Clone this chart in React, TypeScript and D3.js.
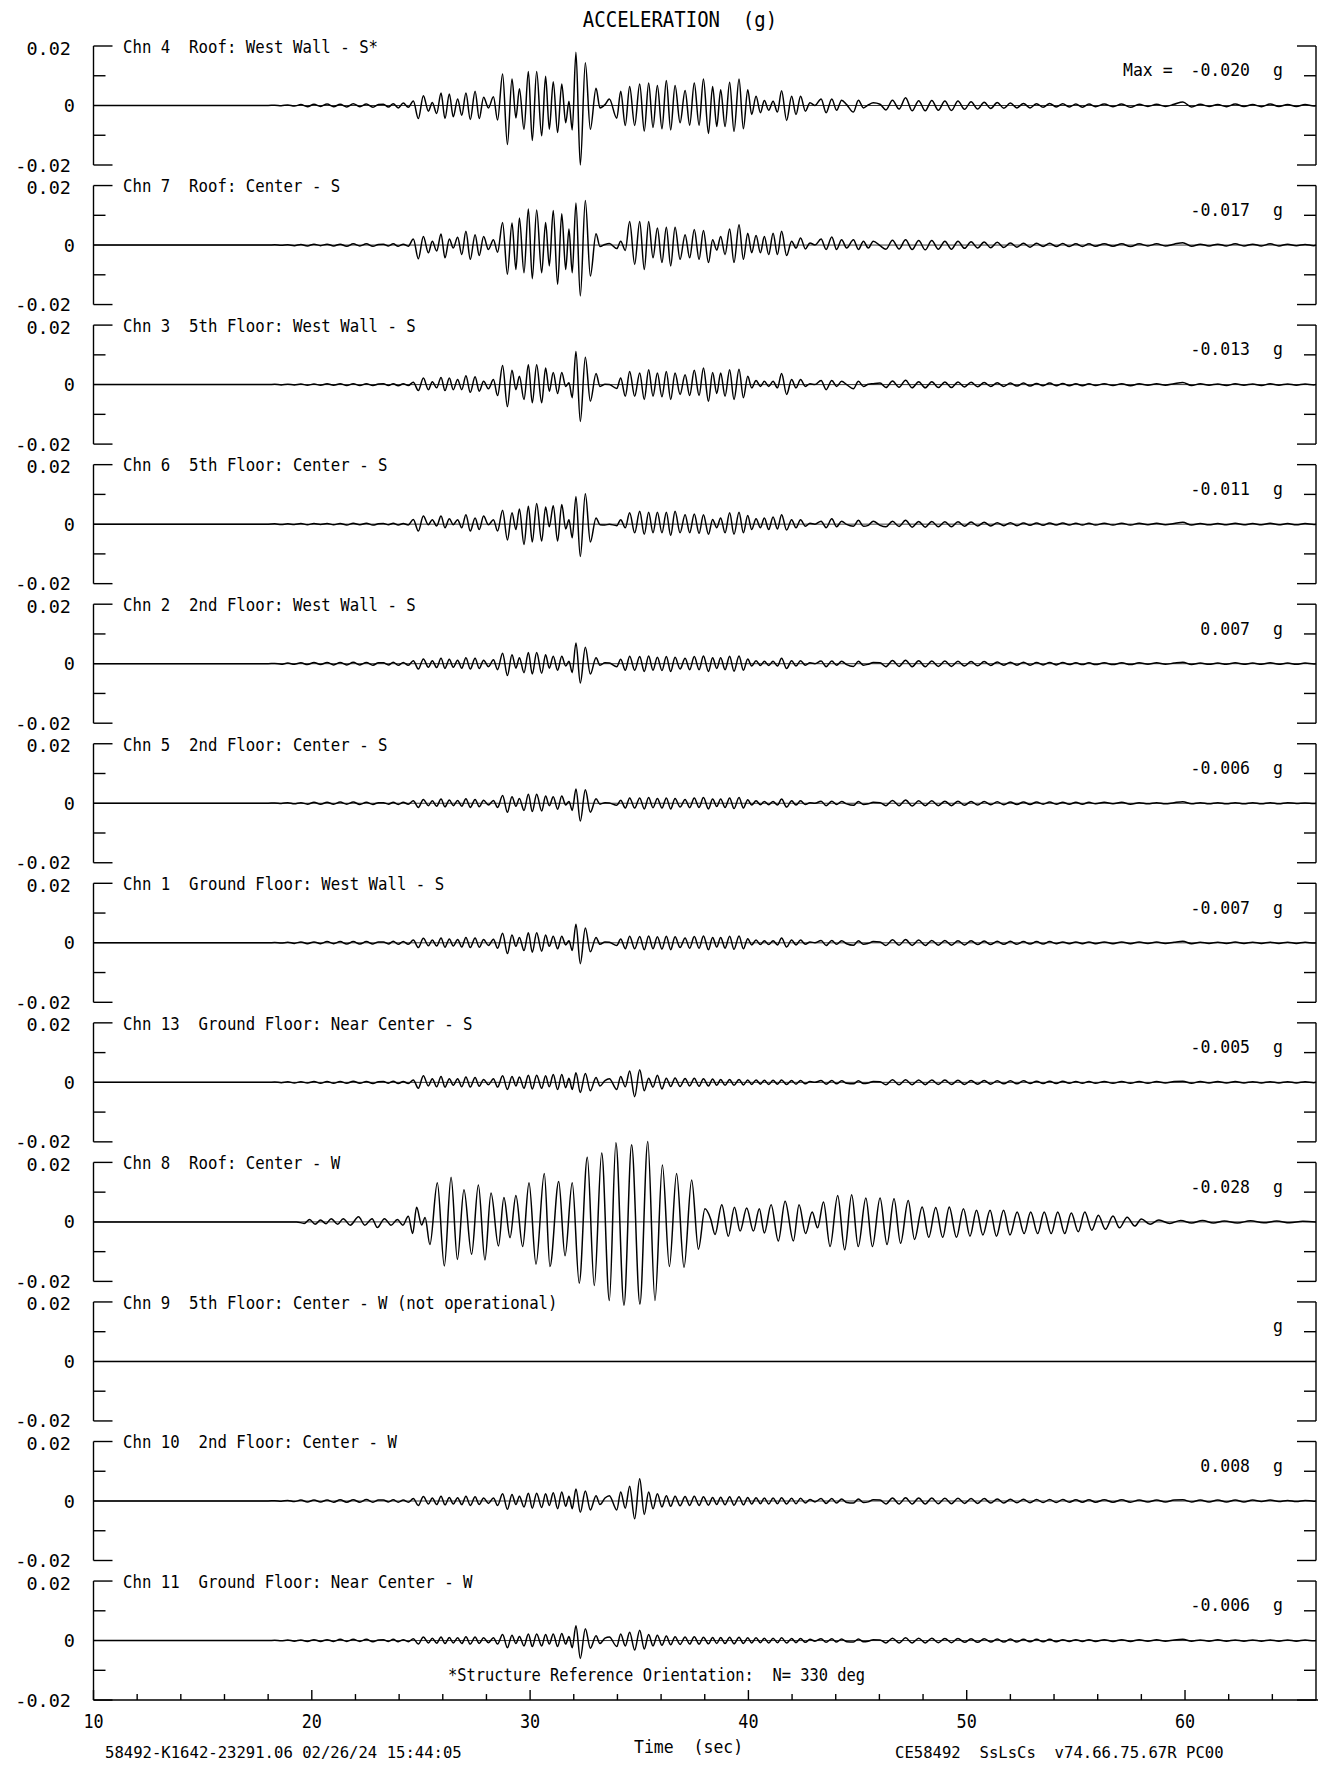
import React from 'react';
import * as d3 from 'd3';

// ---------- axes / labels ----------
const TIME_DOMAIN = [10, 66];
const X_TICK_LABELS = [10, 20, 30, 40, 50, 60];
const X_MINOR_TICKS = [12, 14, 16, 18, 22, 24, 26, 28, 32, 34, 36, 38, 42, 44, 46, 48, 52, 54, 56, 58, 62, 64];
const Y_TICK_LABELS = ['0.02', '0', '-0.02'];
const Y_TICK_VALUES = [0.02, 0, -0.02];

const CHANNEL_LABELS = [
  'Chn 4  Roof: West Wall - S*',
  'Chn 7  Roof: Center - S',
  'Chn 3  5th Floor: West Wall - S',
  'Chn 6  5th Floor: Center - S',
  'Chn 2  2nd Floor: West Wall - S',
  'Chn 5  2nd Floor: Center - S',
  'Chn 1  Ground Floor: West Wall - S',
  'Chn 13  Ground Floor: Near Center - S',
  'Chn 8  Roof: Center - W',
  'Chn 9  5th Floor: Center - W (not operational)',
  'Chn 10  2nd Floor: Center - W',
  'Chn 11  Ground Floor: Near Center - W',
];
const MAX_LABELS = ['-0.020', '-0.017', '-0.013', '-0.011', '0.007', '-0.006', '-0.007', '-0.005', '-0.028', '', '0.008', '-0.006'];

// ---------- shared time grids (s) for the S-type records ----------
const EARLY_TIMES = [10, 18.0, 18.3, 18.6, 18.9, 19.2, 19.5, 19.8, 20.1, 20.4, 20.7, 21.0, 21.3, 21.6, 21.9, 22.2, 22.5, 22.8, 23.05];
const MAIN_TIMES = [
  23.28, 23.51, 23.73, 23.96, 24.19, 24.42, 24.65, 24.88, 25.11, 25.34,
  25.52, 25.72, 25.92, 26.10, 26.30, 26.48, 26.68, 26.87, 27.06, 27.26,
  27.48, 27.67, 27.87, 28.09, 28.32, 28.51, 28.74, 28.96, 29.17, 29.35,
  29.51, 29.72, 29.92, 30.10, 30.30, 30.53, 30.71, 30.88, 31.06, 31.26,
  31.45, 31.63, 31.78, 31.93, 32.10, 32.30, 32.53, 32.76, 33.02, 33.20,
  33.43, 33.63, 33.97, 34.15, 34.36, 34.56, 34.79, 35.02, 35.23, 35.43,
  35.63, 35.83, 36.04, 36.24, 36.44, 36.64, 36.87, 37.10, 37.31, 37.52,
  37.74, 37.94, 38.17, 38.36, 38.55, 38.73, 38.93, 39.14, 39.34, 39.57,
  39.77, 39.97, 40.15, 40.35, 40.55, 40.73, 40.93, 41.13, 41.33, 41.52,
  41.75, 41.98, 42.18, 42.39, 42.61, 42.82, 43.05, 43.33, 43.56, 43.82,
  44.04, 44.27, 44.50, 44.81, 45.04, 45.27, 45.49, 45.72, 46.03,
];
const TAIL_TIMES = [
  46.3, 46.6, 46.9, 47.2, 47.5, 47.8, 48.1, 48.4, 48.7, 49.0,
  49.3, 49.6, 49.9, 50.2, 50.5, 50.8, 51.1, 51.4, 51.7, 52.0,
  52.3, 52.6, 52.9, 53.2, 53.5, 53.8, 54.1, 54.4, 54.7, 55.0,
  55.3, 55.6, 55.9,
  56.3, 56.7, 57.1, 57.5, 57.9, 58.3, 58.7, 59.1, 59.5, 59.9,
  60.3, 60.7, 61.1, 61.5, 61.9, 62.3, 62.7, 63.1, 63.5, 63.9,
  64.3, 64.7, 65.1, 65.5, 65.9, 66.0,
];

// ---------- peak values (milli-g) read from the record ----------
const CHN4_EARLY = [0, 0, 0.1, -0.1, 0.2, -0.2, 0.3, -0.4, 0.4, -0.3, 0.5, -0.4, 0.4, -0.5, 0.6, -0.4, 0.5, -0.6, 0.3];
const CHN4_MAIN = [
  0.4, -0.5, 0.6, -0.8, 0.8, -0.6, 1.5, -4.4, 3.3, -1.9,
  1.0, -2.7, 4.2, -4.4, 3.9, -3.8, 2.2, -3.3, 4.2, -4.7,
  4.8, -4.4, 2.8, -0.8, 2.9, -4.9, 10.6, -13.1, 8.9, -4.2,
  5.6, -8.0, 11.4, -11.8, 11.4, -10.2, 9.8, -8.0, 8.0, -9.1,
  7.2, -5.8, 1.4, -8.2, 17.9, -20.0, 14.4, -8.0, 5.8, -0.8,
  0.3, 2.2, -4.3, 4.8, -6.7, 6.4, -6.7, 7.2, -8.6, 7.6,
  -7.4, 6.7, -7.8, 8.4, -8.2, 6.7, -5.8, 5.0, -6.6, 7.6,
  -6.6, 8.9, -9.4, 6.4, -7.1, 5.3, -7.1, 7.8, -8.7, 8.9,
  -7.8, 5.3, -3.0, 3.1, -2.4, 1.7, -1.6, 1.4, -2.2, 5.0,
  -5.0, 3.1, -3.0, 3.1, -1.9, 0.9, 0.0, 2.2, -2.4, 2.2,
  -1.6, 1.8, 0.3, -2.2, 1.8, -0.8, 0.2, 0.9, 0.4,
];
const CHN4_TAIL = [
  -1.5, 1.8, -1.2, 2.6, -1.8, 1.6, -1.8, 1.7, -1.6, 1.5,
  -1.7, 1.5, -1.3, 1.3, -1.2, 1.1, -1.0, 1.0, -0.9, 0.8,
  -0.8, 0.7, -0.8, 0.6, -0.6, 0.7, -0.5, 0.6, -0.5, 0.5,
  -0.6, 0.5, -0.4,
  0.5, -0.4, 0.5, -0.6, 0.4, -0.3, 0.4, -0.3, 0.4, 1.2,
  -0.5, 0.4, -0.3, 0.3, -0.4, 0.5, -0.3, 0.3, -0.4, 0.5,
  -0.3, 0.3, -0.3, 0.3, -0.2, 0,
];

const CHN7_EARLY = [0, 0, 0.1, -0.1, 0.1, -0.2, 0.2, -0.3, 0.3, -0.2, 0.3, -0.3, 0.3, -0.4, 0.4, -0.3, 0.4, -0.4, 0.2];
const CHN7_MAIN = [
  0.3, -0.3, 0.4, -0.4, 0.3, -0.4, 2.0, -4.6, 2.9, -2.6,
  1.3, -2.0, 3.7, -4.3, 2.0, -1.0, 2.6, -3.2, 4.6, -4.8,
  3.5, -3.5, 2.9, -1.5, 1.8, -2.4, 7.6, -9.8, 7.4, -8.2,
  9.1, -9.3, 12.1, -11.3, 11.8, -9.3, 7.6, -7.0, 11.6, -13.2,
  10.5, -8.2, 5.4, -9.3, 14.1, -17.1, 15.0, -10.4, 3.8, -0.5,
  0.2, 0.5, -1.2, 1.3, -1.8, 7.9, -6.5, 7.9, -8.2, 7.9,
  -4.3, 5.7, -5.9, 6.0, -7.0, 6.0, -4.8, 3.5, -4.3, 5.2,
  -4.8, 4.9, -5.9, 1.8, -1.7, 2.9, -3.2, 5.4, -5.9, 6.8,
  -4.8, 4.0, -2.6, 3.2, -2.6, 2.9, -3.2, 4.0, -3.2, 4.6,
  -3.5, 1.3, -1.0, 2.4, -1.3, 0.7, 0.0, 2.0, -1.5, 2.7,
  -1.5, 1.8, -1.0, 1.8, -1.5, 1.3, -1.0, 1.3, -0.2,
];
const CHN7_TAIL = [
  -1.4, 1.6, -1.3, 1.8, -1.5, 1.5, -1.6, 1.5, -1.4, 1.3,
  -1.4, 1.3, -1.1, 1.1, -1.0, 1.0, -0.9, 0.9, -0.8, 0.7,
  -0.7, 0.6, -0.7, 0.6, -0.5, 0.6, -0.5, 0.5, -0.5, 0.4,
  -0.5, 0.4, -0.4,
  0.4, -0.4, 0.4, -0.5, 0.4, -0.3, 0.4, -0.3, 0.3, 0.8,
  -0.4, 0.3, -0.3, 0.3, -0.3, 0.4, -0.3, 0.3, -0.3, 0.4,
  -0.3, 0.3, -0.2, 0.2, -0.2, 0,
];

const CHN3_EARLY = [0, 0, 0.1, -0.1, 0.1, -0.1, 0.2, -0.2, 0.2, -0.2, 0.3, -0.2, 0.3, -0.3, 0.3, -0.3, 0.3, -0.3, 0.2];
const CHN3_MAIN = [
  0.3, -0.3, 0.3, -0.4, 0.3, -0.3, 0.8, -2.0, 2.2, -1.7,
  1.0, -1.1, 2.4, -2.0, 2.2, -1.7, 1.7, -1.7, 3.0, -2.6,
  2.6, -2.2, 1.1, -1.4, 1.7, -3.7, 6.4, -7.4, 4.8, -1.7,
  2.8, -5.0, 6.7, -6.1, 6.7, -6.1, 5.6, -2.2, 4.1, -3.0,
  4.1, -0.6, 0.6, -4.4, 11.1, -12.4, 9.2, -5.6, 3.7, -0.6,
  0.1, 0.0, -1.3, 2.2, -3.9, 4.4, -3.9, 3.9, -5.0, 5.0,
  -3.9, 3.9, -4.1, 4.4, -5.0, 3.9, -3.3, 3.3, -3.7, 4.8,
  -3.7, 5.6, -5.6, 4.1, -3.0, 3.9, -3.9, 5.0, -5.0, 5.2,
  -4.4, 2.8, -1.1, 1.4, -0.6, 1.1, -0.6, 1.1, -1.1, 3.7,
  -3.3, 1.7, -1.1, 1.7, -0.6, 0.3, 0.0, 1.4, -1.7, 1.4,
  -0.6, 1.1, 0.0, -1.4, 1.1, -0.6, 0.1, 0.3, 0.5,
];
const CHN3_TAIL = [
  -1.0, 1.2, -0.9, 1.5, -1.1, 1.0, -1.1, 1.0, -1.0, 0.9,
  -1.0, 0.9, -0.8, 0.8, -0.7, 0.7, -0.6, 0.6, -0.6, 0.5,
  -0.5, 0.5, -0.5, 0.4, -0.4, 0.5, -0.4, 0.4, -0.4, 0.3,
  -0.4, 0.3, -0.3,
  0.3, -0.3, 0.3, -0.4, 0.3, -0.2, 0.3, -0.2, 0.3, 0.7,
  -0.3, 0.3, -0.2, 0.2, -0.3, 0.3, -0.2, 0.2, -0.3, 0.3,
  -0.2, 0.2, -0.2, 0.2, -0.1, 0,
];

const CHN6_EARLY = [0, 0, 0.1, -0.1, 0.1, -0.1, 0.2, -0.2, 0.2, -0.1, 0.2, -0.2, 0.2, -0.3, 0.3, -0.2, 0.3, -0.3, 0.1];
const CHN6_MAIN = [
  0.2, -0.2, 0.3, -0.3, 0.2, -0.3, 1.6, -2.3, 2.7, -0.2,
  1.5, -0.6, 2.7, -1.2, 1.8, -0.2, 1.5, -1.2, 3.2, -2.3,
  2.1, -1.8, 2.7, -0.2, 1.5, -2.3, 4.7, -5.3, 3.8, -1.8,
  5.1, -6.8, 6.0, -6.0, 6.9, -5.7, 5.8, -0.9, 6.2, -5.7,
  6.6, -1.6, 1.5, -4.6, 9.3, -10.9, 10.2, -6.0, 2.1, -0.2,
  -0.3, 0.0, -0.5, 1.5, -1.2, 3.8, -2.9, 4.3, -3.4, 4.0,
  -2.9, 4.0, -2.9, 4.0, -3.8, 4.3, -2.9, 3.2, -2.9, 3.4,
  -3.1, 3.2, -3.4, 1.6, -1.2, 2.1, -2.9, 3.8, -3.4, 4.0,
  -2.9, 2.9, -1.8, 1.8, -1.2, 2.1, -1.8, 2.4, -1.6, 3.2,
  -2.0, 1.5, -1.2, 1.5, -0.7, 0.3, 0.0, 1.0, -1.2, 1.8,
  -0.9, 1.0, -0.1, -0.7, 1.3, -0.7, -0.4, 1.0, -0.4,
];
const CHN6_TAIL = [
  -0.9, 1.0, -0.8, 1.3, -1.0, 0.9, -1.0, 0.9, -0.9, 0.8,
  -0.9, 0.8, -0.7, 0.7, -0.6, 0.6, -0.6, 0.5, -0.5, 0.5,
  -0.5, 0.4, -0.4, 0.4, -0.4, 0.4, -0.3, 0.4, -0.3, 0.3,
  -0.3, 0.3, -0.3,
  0.3, -0.3, 0.3, -0.3, 0.3, -0.2, 0.3, -0.2, 0.2, 0.6,
  -0.3, 0.2, -0.2, 0.2, -0.2, 0.3, -0.2, 0.2, -0.2, 0.3,
  -0.2, 0.2, -0.2, 0.2, -0.1, 0,
];

const CHN2_EARLY = [0, 0, 0.1, -0.2, 0.2, -0.2, 0.3, -0.3, 0.4, -0.3, 0.4, -0.4, 0.4, -0.4, 0.5, -0.4, 0.4, -0.5, 0.3];
const CHN2_MAIN = [
  0.3, -0.4, 0.5, -0.5, 0.4, -0.5, 1.0, -1.8, 1.6, -1.2,
  1.0, -1.3, 1.8, -1.6, 1.5, -1.2, 1.2, -1.5, 2.0, -1.8,
  1.8, -1.6, 1.2, -1.0, 1.3, -2.0, 3.5, -4.0, 3.0, -1.5,
  2.0, -3.0, 3.8, -3.5, 3.8, -3.2, 3.0, -1.5, 2.5, -2.2,
  2.5, -0.8, 0.8, -3.0, 7.0, -6.5, 5.5, -3.5, 2.0, -0.5,
  0.3, 0.2, -1.0, 1.5, -2.2, 2.5, -2.2, 2.4, -2.6, 2.6,
  -2.2, 2.2, -2.3, 2.4, -2.6, 2.2, -1.8, 1.8, -2.0, 2.4,
  -2.0, 2.6, -2.6, 2.0, -1.6, 2.0, -2.0, 2.5, -2.5, 2.6,
  -2.2, 1.6, -0.8, 1.0, -0.6, 0.8, -0.6, 0.8, -0.8, 1.8,
  -1.6, 1.0, -0.8, 1.0, -0.5, 0.3, 0.0, 0.9, -1.0, 0.9,
  -0.5, 0.8, -0.3, -0.9, 0.8, -0.5, -0.2, 0.4, 0.3,
];
const CHN2_TAIL = [
  -1.0, 1.1, -0.9, 1.2, -1.0, 1.0, -1.0, 0.9, -0.9, 0.9,
  -0.9, 0.8, -0.8, 0.7, -0.7, 0.7, -0.6, 0.6, -0.5, 0.5,
  -0.5, 0.5, -0.5, 0.4, -0.4, 0.4, -0.4, 0.4, -0.3, 0.3,
  -0.3, 0.3, -0.3,
  0.3, -0.3, 0.3, -0.3, 0.3, -0.2, 0.3, -0.2, 0.2, 0.5,
  -0.3, 0.2, -0.2, 0.2, -0.2, 0.3, -0.2, 0.2, -0.2, 0.3,
  -0.2, 0.2, -0.2, 0.2, -0.1, 0,
];

const CHN5_EARLY = [0, 0, 0.1, -0.1, 0.2, -0.2, 0.2, -0.3, 0.3, -0.3, 0.3, -0.3, 0.4, -0.3, 0.4, -0.4, 0.3, -0.4, 0.2];
const CHN5_MAIN = [
  0.2, -0.3, 0.3, -0.4, 0.3, -0.3, 0.8, -1.4, 1.3, -0.8,
  0.8, -1.0, 1.4, -1.2, 1.1, -0.8, 0.9, -1.0, 1.5, -1.4,
  1.3, -1.2, 1.0, -0.6, 0.9, -1.4, 2.6, -3.0, 2.2, -1.0,
  1.6, -2.4, 3.0, -2.8, 3.0, -2.6, 2.4, -0.8, 2.2, -2.0,
  2.4, -0.6, 0.6, -2.4, 4.8, -6.0, 4.5, -3.0, 1.5, -0.3,
  0.2, 0.1, -0.7, 1.0, -1.6, 1.8, -1.6, 1.8, -1.9, 1.9,
  -1.5, 1.6, -1.6, 1.8, -1.9, 1.6, -1.3, 1.3, -1.5, 1.8,
  -1.4, 1.9, -1.9, 1.4, -1.1, 1.4, -1.4, 1.8, -1.8, 1.9,
  -1.6, 1.2, -0.6, 0.8, -0.5, 0.6, -0.5, 0.6, -0.6, 1.4,
  -1.3, 0.8, -0.6, 0.8, -0.4, 0.2, 0.0, 0.7, -0.8, 0.7,
  -0.4, 0.6, -0.2, -0.7, 0.6, -0.4, -0.2, 0.3, 0.2,
];
const CHN5_TAIL = [
  -0.8, 0.9, -0.8, 1.1, -0.9, 0.8, -0.8, 0.8, -0.8, 0.7,
  -0.8, 0.7, -0.7, 0.6, -0.6, 0.6, -0.5, 0.5, -0.5, 0.4,
  -0.4, 0.4, -0.4, 0.4, -0.3, 0.4, -0.3, 0.3, -0.3, 0.3,
  -0.3, 0.3, -0.2,
  0.3, -0.2, 0.3, -0.3, 0.2, -0.2, 0.2, -0.2, 0.2, 0.5,
  -0.2, 0.2, -0.2, 0.2, -0.2, 0.2, -0.2, 0.2, -0.2, 0.2,
  -0.2, 0.2, -0.1, 0.1, -0.1, 0,
];

const CHN1_EARLY = [0, 0, 0.1, -0.1, 0.2, -0.2, 0.3, -0.3, 0.3, -0.3, 0.4, -0.3, 0.4, -0.4, 0.4, -0.4, 0.4, -0.4, 0.3];
const CHN1_MAIN = [
  0.3, -0.4, 0.5, -0.5, 0.4, -0.5, 0.9, -1.6, 1.5, -1.0,
  0.9, -1.1, 1.6, -1.5, 1.3, -1.1, 1.1, -1.4, 1.8, -1.6,
  1.6, -1.5, 1.1, -0.9, 1.2, -1.8, 3.2, -3.6, 2.6, -1.2,
  1.8, -2.6, 3.4, -3.2, 3.4, -2.8, 2.6, -1.2, 2.2, -2.0,
  2.2, -0.7, 0.7, -2.6, 6.2, -7.0, 5.0, -3.0, 1.8, -0.5,
  0.3, 0.2, -0.9, 1.3, -2.0, 2.2, -2.0, 2.1, -2.3, 2.3,
  -2.0, 2.0, -2.1, 2.2, -2.3, 2.0, -1.6, 1.6, -1.8, 2.1,
  -1.8, 2.3, -2.3, 1.8, -1.4, 1.8, -1.8, 2.2, -2.2, 2.3,
  -2.0, 1.4, -0.7, 0.9, -0.6, 0.7, -0.6, 0.7, -0.7, 1.6,
  -1.4, 0.9, -0.7, 0.9, -0.5, 0.3, 0.0, 0.8, -0.9, 0.8,
  -0.5, 0.7, -0.3, -0.8, 0.7, -0.5, -0.2, 0.4, 0.3,
];
const CHN1_TAIL = [
  -0.9, 1.0, -0.8, 1.1, -0.9, 0.9, -0.9, 0.8, -0.8, 0.8,
  -0.8, 0.7, -0.7, 0.7, -0.6, 0.6, -0.6, 0.5, -0.5, 0.5,
  -0.5, 0.4, -0.4, 0.4, -0.4, 0.4, -0.3, 0.3, -0.3, 0.3,
  -0.3, 0.3, -0.3,
  0.3, -0.3, 0.3, -0.3, 0.3, -0.2, 0.3, -0.2, 0.2, 0.5,
  -0.3, 0.2, -0.2, 0.2, -0.2, 0.3, -0.2, 0.2, -0.2, 0.2,
  -0.2, 0.2, -0.2, 0.2, -0.1, 0,
];

const CHN13_EARLY = [0, 0, 0.1, -0.1, 0.2, -0.2, 0.2, -0.2, 0.3, -0.3, 0.3, -0.3, 0.3, -0.3, 0.4, -0.3, 0.3, -0.4, 0.2];
const CHN13_MAIN = [
  0.3, -0.3, 0.4, -0.4, 0.3, -0.4, 0.8, -2.0, 2.2, -1.2,
  1.2, -1.5, 2.0, -1.6, 1.2, -1.0, 1.2, -1.5, 1.8, -1.6,
  1.6, -1.3, 1.0, -0.8, 1.2, -1.6, 2.2, -2.4, 2.0, -1.2,
  1.8, -2.0, 2.4, -2.2, 2.4, -2.0, 2.2, -1.5, 2.6, -2.4,
  2.6, -1.8, 1.4, -2.4, 3.2, -3.4, 3.0, -2.8, 1.6, -1.2,
  0.6, 1.2, -2.4, 2.0, -1.5, 3.8, -4.8, 4.2, -2.8, 1.4,
  -1.6, 2.4, -2.2, 1.4, -1.4, 1.5, -1.4, 1.3, -1.2, 1.4,
  -1.3, 1.2, -1.2, 1.1, -1.0, 1.0, -1.0, 1.0, -1.0, 1.0,
  -0.9, 0.8, -0.7, 0.8, -0.6, 0.7, -0.7, 0.7, -0.6, 0.8,
  -0.7, 0.6, -0.6, 0.6, -0.5, 0.3, 0.0, 0.6, -0.6, 0.6,
  -0.5, 0.5, -0.3, -0.5, 0.5, -0.4, -0.2, 0.3, 0.2,
];
const CHN13_TAIL = [
  -0.8, 0.9, -0.8, 0.9, -0.8, 0.8, -0.8, 0.8, -0.7, 0.8,
  -0.7, 0.7, -0.7, 0.6, -0.6, 0.6, -0.6, 0.5, -0.5, 0.5,
  -0.5, 0.5, -0.4, 0.4, -0.4, 0.4, -0.4, 0.4, -0.3, 0.3,
  -0.3, 0.3, -0.3,
  0.3, -0.3, 0.3, -0.3, 0.3, -0.3, 0.3, -0.2, 0.3, 0.4,
  -0.3, 0.3, -0.2, 0.3, -0.2, 0.3, -0.2, 0.2, -0.2, 0.2,
  -0.2, 0.2, -0.2, 0.2, -0.1, 0,
];

const CHN10_EARLY = [0, 0, 0.1, -0.1, 0.2, -0.2, 0.3, -0.3, 0.3, -0.3, 0.3, -0.4, 0.4, -0.4, 0.4, -0.4, 0.5, -0.4, 0.3];
const CHN10_MAIN = [
  0.3, -0.3, 0.4, -0.4, 0.3, -0.4, 0.8, -1.5, 1.5, -1.0,
  1.0, -1.2, 1.6, -1.3, 1.2, -1.0, 1.1, -1.2, 1.6, -1.5,
  1.4, -1.2, 1.0, -0.8, 1.0, -1.5, 2.4, -2.8, 2.2, -1.2,
  1.6, -2.0, 2.6, -2.4, 2.6, -2.2, 2.4, -1.5, 2.8, -2.6,
  3.0, -1.8, 1.6, -2.6, 4.0, -3.8, 3.4, -3.0, 1.8, -1.2,
  1.0, 1.8, -3.0, 3.0, -2.4, 5.0, -6.0, 7.5, -4.5, 3.0,
  -2.6, 2.4, -2.0, 1.8, -1.8, 1.6, -1.6, 1.5, -1.5, 1.6,
  -1.5, 1.4, -1.4, 1.2, -1.2, 1.3, -1.3, 1.4, -1.4, 1.4,
  -1.3, 1.2, -1.0, 1.1, -0.9, 1.0, -1.0, 1.0, -0.9, 1.1,
  -1.0, 0.9, -0.9, 0.9, -0.7, 0.5, -0.3, 0.8, -0.8, 0.8,
  -0.7, 0.7, -0.5, -0.7, 0.7, -0.5, -0.3, 0.4, 0.3,
];
const CHN10_TAIL = [
  -1.0, 1.0, -1.0, 1.1, -1.0, 1.0, -1.0, 1.0, -0.9, 0.9,
  -0.9, 0.9, -0.8, 0.8, -0.8, 0.8, -0.7, 0.7, -0.7, 0.6,
  -0.6, 0.6, -0.6, 0.5, -0.5, 0.5, -0.5, 0.5, -0.4, 0.4,
  -0.4, 0.4, -0.4,
  0.4, -0.4, 0.4, -0.4, 0.3, -0.3, 0.3, -0.3, 0.3, 0.4,
  -0.3, 0.3, -0.3, 0.3, -0.3, 0.3, -0.3, 0.3, -0.2, 0.3,
  -0.2, 0.2, -0.2, 0.2, -0.1, 0,
];

const CHN11_EARLY = [0, 0, 0.1, -0.1, 0.2, -0.2, 0.2, -0.3, 0.3, -0.3, 0.3, -0.3, 0.4, -0.3, 0.4, -0.3, 0.4, -0.4, 0.2];
const CHN11_MAIN = [
  0.3, -0.3, 0.4, -0.4, 0.3, -0.4, 0.6, -1.2, 1.2, -0.8,
  0.8, -0.9, 1.2, -1.0, 1.0, -0.8, 0.9, -1.0, 1.3, -1.2,
  1.2, -1.0, 0.9, -0.7, 0.9, -1.2, 2.0, -2.4, 1.8, -1.0,
  1.4, -1.8, 2.2, -2.0, 2.2, -1.8, 2.0, -1.2, 2.2, -2.0,
  2.4, -1.2, 1.4, -2.4, 5.0, -6.0, 4.0, -2.6, 1.6, -1.0,
  0.8, 1.2, -2.0, 2.2, -1.8, 2.8, -3.2, 3.5, -2.8, 2.0,
  -1.8, 1.8, -1.6, 1.5, -1.4, 1.3, -1.3, 1.2, -1.2, 1.3,
  -1.2, 1.1, -1.1, 1.0, -1.0, 1.0, -1.0, 1.1, -1.1, 1.1,
  -1.0, 0.9, -0.8, 0.9, -0.7, 0.8, -0.8, 0.8, -0.7, 0.9,
  -0.8, 0.7, -0.7, 0.7, -0.6, 0.4, -0.2, 0.6, -0.6, 0.6,
  -0.5, 0.5, -0.4, -0.5, 0.5, -0.4, -0.2, 0.3, 0.2,
];
const CHN11_TAIL = [
  -0.8, 0.8, -0.8, 0.9, -0.8, 0.8, -0.8, 0.8, -0.7, 0.7,
  -0.7, 0.7, -0.6, 0.6, -0.6, 0.6, -0.5, 0.5, -0.5, 0.5,
  -0.5, 0.4, -0.4, 0.4, -0.4, 0.4, -0.4, 0.3, -0.3, 0.3,
  -0.3, 0.3, -0.3,
  0.3, -0.3, 0.3, -0.3, 0.3, -0.2, 0.3, -0.2, 0.2, 0.4,
  -0.2, 0.2, -0.2, 0.3, -0.2, 0.2, -0.2, 0.2, -0.2, 0.2,
  -0.2, 0.2, -0.2, 0.2, -0.1, 0,
];

// Chn 8 (roof, W) has its own peak times: [time s, milli-g]
const CHN8_PEAKS = [
  [10, 0], [19.3, 0], [19.65, -0.5], [19.9, 0.8], [20.15, -0.8], [20.4, 0.6], [20.65, -0.6], [20.89, 1.1],
  [21.19, -0.8], [21.44, 1.1], [21.76, -1.1], [22.14, 1.7], [22.43, -1.1], [22.76, 1.1], [23.0, -1.9],
  [23.33, 1.1], [23.63, -1.1], [23.92, 0.8], [24.17, -1.1], [24.42, 1.9], [24.62, -3.9],
  [24.8, 4.9], [25.03, -1.0], [25.19, 1.5], [25.41, -7.6], [25.75, 13.2], [26.07, -14.8], [26.38, 15.0],
  [26.67, -12.6], [26.97, 10.8], [27.32, -10.9], [27.63, 12.4], [27.93, -12.8], [28.21, 9.7], [28.55, -8.1],
  [28.8, 8.2], [29.08, -5.3], [29.35, 8.9], [29.66, -8.3], [29.95, 13.2], [30.27, -14.2], [30.65, 16.3],
  [30.91, -15.0], [31.31, 13.6], [31.6, -11.4], [31.93, 13.2], [32.25, -20.6], [32.62, 21.7], [32.94, -21.4],
  [33.28, 23.2], [33.63, -26.4], [33.93, 26.6], [34.3, -28.0], [34.65, 25.9], [35.03, -27.6], [35.39, 27.0],
  [35.72, -26.4], [36.06, 19.1], [36.38, -15.0], [36.71, 16.3], [37.05, -15.3], [37.4, 14.1], [37.71, -9.2],
  [38.01, 4.4], [38.27, 1.0], [38.47, -4.2], [38.78, 5.8], [39.08, -4.8], [39.36, 4.9], [39.62, -3.1],
  [39.92, 4.7], [40.23, -3.1], [40.5, 4.4], [40.73, -3.7], [41.04, 5.8], [41.37, -6.4], [41.68, 6.9],
  [42.06, -6.4], [42.32, 5.8], [42.62, -3.9], [42.92, 3.3], [43.17, -2.0], [43.44, 6.7], [43.74, -8.3],
  [44.09, 8.9], [44.41, -9.4], [44.73, 9.1], [45.03, -8.3], [45.38, 8.0], [45.68, -8.3], [46.03, 8.0],
  [46.35, -7.6], [46.67, 7.8], [46.97, -7.2], [47.32, 7.2], [47.61, -5.9], [47.96, 5.0], [48.26, -5.2],
  [48.58, 4.8], [48.9, -5.2], [49.2, 5.0], [49.53, -5.2], [49.85, 4.4], [50.15, -4.8], [50.45, 3.9],
  [50.74, -4.4], [51.07, 3.9], [51.36, -4.8], [51.69, 3.9], [51.98, -4.4], [52.31, 3.3], [52.63, -3.9],
  [52.93, 3.3], [53.25, -3.9], [53.55, 3.3], [53.87, -3.9], [54.17, 3.3], [54.49, -3.9], [54.79, 3.0],
  [55.11, -3.3], [55.41, 3.3], [55.73, -2.8], [56.03, 2.2], [56.35, -2.5], [56.7, 2.0], [57.0, -2.0],
  [57.35, 1.6], [57.7, -1.4], [58.0, 1.0], [58.4, -0.8], [58.8, 0.6], [59.3, -0.5], [59.8, 0.5],
  [60.3, -0.4], [60.8, 0.5], [61.3, -0.4], [61.8, 0.3], [62.4, -0.4], [63.0, 0.4], [63.6, -0.3],
  [64.2, 0.3], [64.8, -0.3], [65.4, 0.2], [66.0, 0],
];
const CHN9_PEAKS = [[10, 0], [66, 0]];

const SHARED_TIMES = [...EARLY_TIMES, ...MAIN_TIMES, ...TAIL_TIMES];
function zipShared(early: number[], main: number[], tail: number[]): number[][] {
  const vals = [...early, ...main, ...tail];
  const n = Math.min(vals.length, SHARED_TIMES.length);
  const out: number[][] = [];
  for (let i = 0; i < n; i++) out.push([SHARED_TIMES[i], vals[i]]);
  return out;
}

const SERIES: number[][][] = [
  zipShared(CHN4_EARLY, CHN4_MAIN, CHN4_TAIL),
  zipShared(CHN7_EARLY, CHN7_MAIN, CHN7_TAIL),
  zipShared(CHN3_EARLY, CHN3_MAIN, CHN3_TAIL),
  zipShared(CHN6_EARLY, CHN6_MAIN, CHN6_TAIL),
  zipShared(CHN2_EARLY, CHN2_MAIN, CHN2_TAIL),
  zipShared(CHN5_EARLY, CHN5_MAIN, CHN5_TAIL),
  zipShared(CHN1_EARLY, CHN1_MAIN, CHN1_TAIL),
  zipShared(CHN13_EARLY, CHN13_MAIN, CHN13_TAIL),
  CHN8_PEAKS,
  CHN9_PEAKS,
  zipShared(CHN10_EARLY, CHN10_MAIN, CHN10_TAIL),
  zipShared(CHN11_EARLY, CHN11_MAIN, CHN11_TAIL),
];

const FONT = 'DejaVu Sans Mono';

function Txt(props: { x: number; y: number; size?: number; sy?: number; anchor?: string; children: React.ReactNode }) {
  const { x, y, size = 15.7, sy = 1.12, anchor = 'start', children } = props;
  return (
    <text
      transform={`translate(${x},${y}) scale(1,${sy})`}
      textAnchor={anchor as any}
      dominantBaseline="central"
      fontFamily={FONT}
      fontSize={size}
      fill="#000"
      style={{ whiteSpace: 'pre' }}
    >
      {children}
    </text>
  );
}

export default function App() {
  const W = 1325;
  const H = 1765;
  const xLeft = 93.5;
  const xRight = 1316;
  const panelTop0 = 46;
  const panelStep = 139.55;
  const panelH = 119;
  const x = d3.scaleLinear().domain(TIME_DOMAIN).range([xLeft, xRight]);
  const axisY = panelTop0 + 11 * panelStep + panelH;

  return (
    <svg
      width={W}
      height={H}
      viewBox={`0 0 ${W} ${H}`}
      style={{ position: 'absolute', left: 0, top: 0, background: '#fff' }}
    >
      <rect x={0} y={0} width={W} height={H} fill="#fff" />
      <Txt x={680} y={20} size={19} sy={1.12} anchor="middle">ACCELERATION  (g)</Txt>

      {SERIES.map((pts, i) => {
        const top = panelTop0 + i * panelStep;
        const y = d3.scaleLinear().domain([-0.02, 0.02]).range([top + panelH, top]);
        const line = d3
          .line<number[]>()
          .x((d) => x(d[0]))
          .y((d) => y(d[1] / 1000))
          .curve(d3.curveMonotoneX);
        const yTop = y(0.02);
        const yBot = y(-0.02);
        const yP = y(0.01);
        const yM = y(-0.01);
        const y0 = y(0);
        return (
          <g key={i}>
            <g stroke="#000" strokeWidth={1.4} fill="none">
              <line x1={xLeft} x2={xLeft} y1={yTop} y2={yBot} />
              <line x1={xLeft} x2={xLeft + 19} y1={yTop} y2={yTop} />
              <line x1={xLeft} x2={xLeft + 19} y1={yBot} y2={yBot} />
              <line x1={xLeft} x2={xLeft + 12} y1={yP} y2={yP} />
              <line x1={xLeft} x2={xLeft + 12} y1={yM} y2={yM} />
              <line x1={xRight} x2={xRight} y1={yTop} y2={yBot} />
              <line x1={xRight} x2={xRight - 19} y1={yTop} y2={yTop} />
              <line x1={xRight} x2={xRight - 19} y1={yBot} y2={yBot} />
              <line x1={xRight} x2={xRight - 12} y1={yP} y2={yP} />
              <line x1={xRight} x2={xRight - 12} y1={yM} y2={yM} />
            </g>
            {Y_TICK_VALUES.map((v, k) => (
              <Txt key={k} x={v === 0 ? 75 : 71} y={y(v) + (k === 0 ? 2 : 0)} size={18.5} sy={1.0} anchor="end">
                {Y_TICK_LABELS[k]}
              </Txt>
            ))}
            <line x1={xLeft} x2={xRight} y1={y0} y2={y0} stroke="#000" strokeWidth={0.8} />
            <path d={line(pts) || ''} fill="none" stroke="#000" strokeWidth={1.5} strokeLinejoin="round" />
            <Txt x={123} y={yTop + 1}>{CHANNEL_LABELS[i]}</Txt>
            {i === 0 && <Txt x={1123} y={yTop + 24} size={16.5}>Max =</Txt>}
            {MAX_LABELS[i] !== '' && (
              <Txt x={1250} y={yTop + 24} size={16.5} anchor="end">{MAX_LABELS[i]}</Txt>
            )}
            <Txt x={1278} y={yTop + 24} size={16.5} anchor="middle">g</Txt>
          </g>
        );
      })}

      <g stroke="#000" strokeWidth={1.4}>
        <line x1={xLeft} x2={xRight + 2} y1={axisY} y2={axisY} />
        {X_MINOR_TICKS.map((t) => (
          <line key={'m' + t} x1={x(t)} x2={x(t)} y1={axisY} y2={axisY - 6} />
        ))}
        {X_TICK_LABELS.map((t) => (
          <line key={'M' + t} x1={x(t)} x2={x(t)} y1={axisY} y2={axisY - 10} />
        ))}
      </g>
      {X_TICK_LABELS.map((t) => (
        <Txt key={'l' + t} x={x(t)} y={axisY + 21} size={16.8} sy={1.18} anchor="middle">{String(t)}</Txt>
      ))}

      <Txt x={448} y={1675} size={15.4}>*Structure Reference Orientation:  N= 330 deg</Txt>
      <Txt x={634} y={1747} size={16.5} sy={1.1}>Time  (sec)</Txt>
      <Txt x={105} y={1753} size={15.6} sy={1.0}>58492-K1642-23291.06 02/26/24 15:44:05</Txt>
      <Txt x={895} y={1753} size={15.6} sy={1.0}>CE58492  SsLsCs  v74.66.75.67R PC00</Txt>
    </svg>
  );
}
